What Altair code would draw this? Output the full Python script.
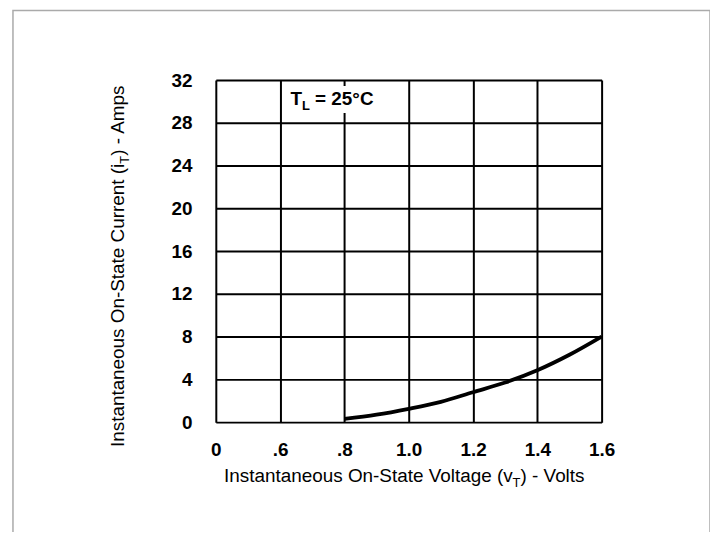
import altair as alt
import pandas as pd

# ---- data ----
voltage = [0.8, 0.9, 1.0, 1.1, 1.2, 1.3, 1.4, 1.5, 1.6]
current = [0.3, 0.7, 1.25, 1.9, 2.8, 3.7, 4.85, 6.3, 8.0]
x_ticks = [0, 0.6, 0.8, 1.0, 1.2, 1.4, 1.6]
x_tick_labels = ["0", ".6", ".8", "1.0", "1.2", "1.4", "1.6"]
y_ticks = [0, 4, 8, 12, 16, 20, 24, 28, 32]
note_pos = [0.632, 29.67]          # position of the "T_L = 25°C" note (data units)
note_box_v = [0.613, 0.892]       # white box behind the note (data units)
note_box_i = [28.93, 31.44]

W, H = 388, 344
FONT = "Liberation Sans"
TF = 19        # axis title font size
SF = 13        # subscript font size
NF = 19        # note font size

x_scale = alt.Scale(domain=[0, 0.6, 1.6], range=[0, W / 6, W])
y_scale = alt.Scale(domain=[0, 32], nice=False, zero=True)

label_expr = " : ".join(
    f"datum.value == {v} ? '{l}'" for v, l in zip(x_ticks, x_tick_labels)
) + " : ''"

common_axis = dict(
    title=None, grid=True, ticks=False, tickSize=0, domain=False,
    labelFont=FONT, labelFontSize=19, labelFontWeight="bold", labelColor="black",
    gridColor="black", gridWidth=2, gridOpacity=1, labelOverlap=False,
)
X = alt.X("v:Q", scale=x_scale,
          axis=alt.Axis(values=x_ticks, labelExpr=label_expr, labelPadding=19,
                        labelFlush=False, **common_axis))
Y = alt.Y("i:Q", scale=y_scale,
          axis=alt.Axis(values=y_ticks, labelPadding=24, **common_axis))

curve_df = pd.DataFrame({"v": voltage, "i": current})
one = pd.DataFrame({"a": [0]})

# outer light-gray frame
frame = alt.Chart(one).mark_rect(fill=None, stroke="#aaaaaa", strokeWidth=1.5).encode(
    x=alt.value(-204), x2=alt.value(497), y=alt.value(-70), y2=alt.value(470)
)

box_df = pd.DataFrame({"v": [note_box_v[0]], "v2": [note_box_v[1]],
                       "i": [note_box_i[0]], "i2": [note_box_i[1]]})
box = alt.Chart(box_df).mark_rect(fill="white", stroke=None).encode(
    x=X, x2="v2:Q", y=Y, y2="i2:Q"
)

curve = alt.Chart(curve_df).mark_line(color="black", strokeWidth=3.8,
                                      interpolate="monotone").encode(x=X, y=Y)

note_df = pd.DataFrame({"v": [note_pos[0]], "i": [note_pos[1]]})


def note_piece(txt, dx, dy, size):
    return alt.Chart(note_df).mark_text(
        text=txt, align="left", baseline="alphabetic", dx=dx, dy=dy,
        font=FONT, fontSize=size, fontWeight="bold", color="black"
    ).encode(x=X, y=Y)


wT_note = 0.611 * NF
wL_note = 0.611 * 13
note = (note_piece("T", 0, 0, NF)
        + note_piece("L", wT_note, 5, 13)
        + note_piece("= 25°C", wT_note + wL_note + 0.278 * NF, 0, NF))


def title_piece(txt, px, py, align, dx, dy, size, angle=0):
    return alt.Chart(one).mark_text(
        text=txt, align=align, baseline="alphabetic", dx=dx, dy=dy, angle=angle,
        font=FONT, fontSize=size, color="black"
    ).encode(x=alt.value(px), y=alt.value(py))


# x title: "Instantaneous On-State Voltage (v" + sub T + ") - Volts"
xb = 7 + 15.342 * TF
xy = 404
wT = 0.611 * SF
x_title = (title_piece("Instantaneous On-State Voltage (v", xb, xy, "right", 0, 0, TF)
           + title_piece("T", xb, xy, "left", 0, 5, SF)
           + title_piece(") - Volts", xb, xy, "left", wT, 0, TF))

# y title (rotated): "Instantaneous On-State Current (i" + sub T + ") - Amps"
yb = 364 - 14.729 * TF
yx = -92
y_title = (title_piece("Instantaneous On-State Current (i", yx, yb, "right", 0, 0, TF, 270)
           + title_piece("T", yx, yb, "left", 0, 5, SF, 270)
           + title_piece(") - Amps", yx, yb, "left", wT, 0, TF, 270))

chart = alt.layer(frame, box, curve, note, x_title, y_title).properties(
    width=W, height=H,
    autosize=alt.AutoSizeParams(type="none"),
    padding={"left": 209, "top": 71, "right": 109, "bottom": 109},
).configure_view(stroke="black", strokeWidth=2.5).configure(background="white")

chart.save("out.html", embed_options={"renderer": "svg", "actions": False})
